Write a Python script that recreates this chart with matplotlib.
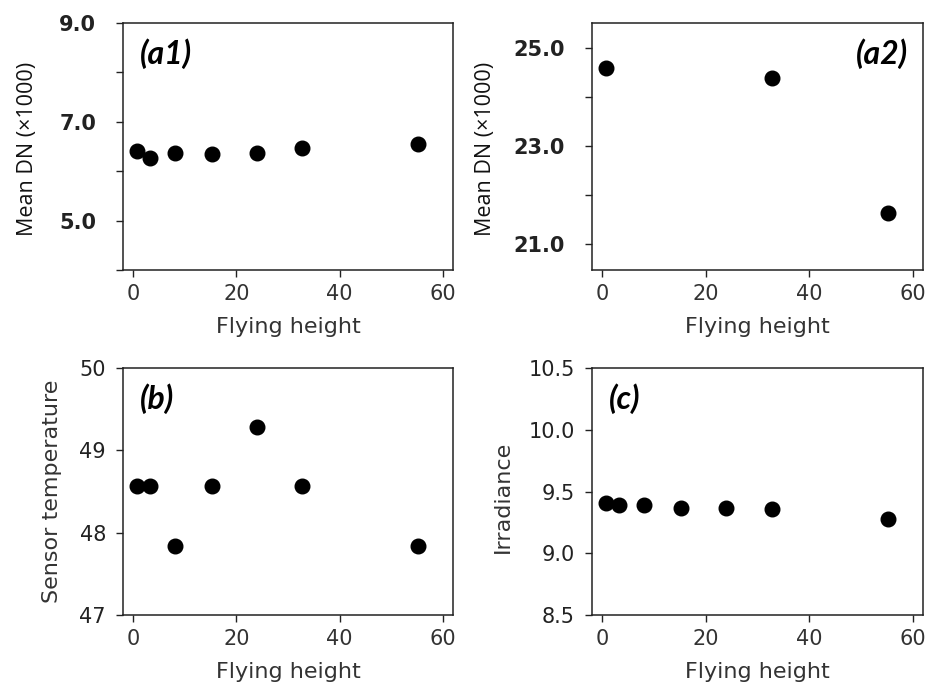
import numpy as np
import matplotlib.pyplot as plt
from matplotlib.ticker import FixedLocator

# ======= Data =======

height = [0.8, 3.3, 8.0, 15.3, 24.0, 32.8, 55.2]
dn_a1 = [6.41, 6.26, 6.36, 6.34, 6.36, 6.46, 6.56]

height_a2 = [0.8, 32.8, 55.2]
dn_a2 = [24.59, 24.40, 21.64]

sensor_temp = [48.57, 48.57, 47.84, 48.57, 49.28, 48.57, 47.84]
irradiance = [9.405, 9.39, 9.39, 9.37, 9.37, 9.36, 9.28]

# ======= Plotting =======

plt.rcParams["font.family"] = "DejaVu Sans"

fig = plt.figure(figsize=(9.32, 6.89), dpi=100)

W, H = 932, 689


def make_ax(left, top, right, bottom):
    return fig.add_axes([left / W, 1 - bottom / H, (right - left) / W, (bottom - top) / H])


ax_a1 = make_ax(123, 23, 453, 270)
ax_a2 = make_ax(592, 23, 923, 270)
ax_b = make_ax(123, 368, 453, 615)
ax_c = make_ax(592, 368, 923, 615)

mk = dict(marker="o", ls="none", color="black", markersize=10.5)
tick_font = 15
label_font = 16
panel_font = dict(fontsize=23, fontweight="bold", fontstyle="italic", family="Lato")
bold_ticks = dict(family="DejaVu Sans", fontweight="bold", fontsize=15)

for ax in (ax_a1, ax_a2, ax_b, ax_c):
    ax.set_xlim(-2, 62)
    ax.set_xticks([0, 20, 40, 60])
    ax.tick_params(which="both", length=5.3, width=1, labelsize=tick_font, colors="#222222")
    ax.tick_params(axis="x", labelcolor="#333333", pad=5)
    ax.tick_params(axis="y", pad=7)
    ax.set_xlabel("Flying height", fontsize=label_font, color="#333333")
    ax.xaxis.set_label_coords(0.5, -0.19)
    for s in ax.spines.values():
        s.set_linewidth(1.1)
        s.set_color("#222222")

# Panel a1
ax_a1.plot(height, dn_a1, **mk)
ax_a1.set_ylim(4.0, 9.0)
ax_a1.set_yticks([5.0, 7.0, 9.0])
ax_a1.set_yticklabels(["5.0", "7.0", "9.0"], **bold_ticks)
ax_a1.yaxis.set_minor_locator(FixedLocator([4.0, 6.0, 8.0]))
ax_a1.tick_params(axis="y", pad=14)
ax_a1.set_ylabel("Mean DN (×1000)", fontsize=15.5, family="Open Sans", color="#111111")
ax_a1.yaxis.set_label_coords(-0.258, 0.49)
ax_a1.text(0.05, 0.94, "(a1)", transform=ax_a1.transAxes, va="top", ha="left", **panel_font)

# Panel a2
ax_a2.plot(height_a2, dn_a2, **mk)
ax_a2.set_ylim(20.48, 25.51)
ax_a2.set_yticks([21.0, 23.0, 25.0])
ax_a2.set_yticklabels(["21.0", "23.0", "25.0"], **bold_ticks)
ax_a2.yaxis.set_minor_locator(FixedLocator([22.0, 24.0]))
ax_a2.tick_params(axis="y", pad=14)
ax_a2.set_ylabel("Mean DN (×1000)", fontsize=15.5, family="Open Sans", color="#111111")
ax_a2.yaxis.set_label_coords(-0.29, 0.49)
ax_a2.text(0.955, 0.94, "(a2)", transform=ax_a2.transAxes, va="top", ha="right", **panel_font)

# Panel b
ax_b.plot(height, sensor_temp, **mk)
ax_b.set_ylim(47, 50)
ax_b.set_yticks([47, 48, 49, 50])
ax_b.set_ylabel("Sensor temperature", fontsize=label_font, color="#333333")
ax_b.yaxis.set_label_coords(-0.185, 0.5)
ax_b.text(0.05, 0.94, "(b)", transform=ax_b.transAxes, va="top", ha="left", **panel_font)

# Panel c
ax_c.plot(height, irradiance, **mk)
ax_c.set_ylim(8.5, 10.5)
ax_c.set_yticks([8.5, 9.0, 9.5, 10.0, 10.5])
ax_c.set_ylabel("Irradiance", fontsize=label_font, color="#333333")
ax_c.yaxis.set_label_coords(-0.239, 0.48)
ax_c.text(0.05, 0.94, "(c)", transform=ax_c.transAxes, va="top", ha="left", **panel_font)

fig.savefig("out.png", dpi=100)
